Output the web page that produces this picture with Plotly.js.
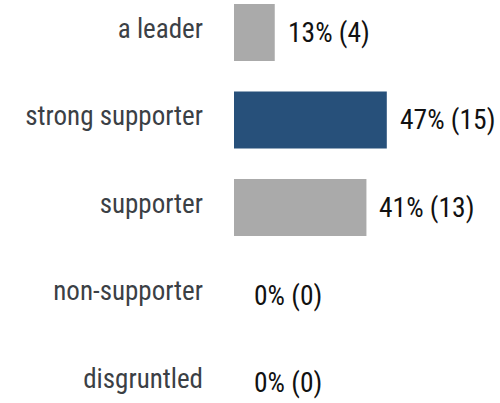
<!DOCTYPE html>
<html>
<head>
<meta charset="utf-8">
<script src="https://cdn.plot.ly/plotly-3.0.1.min.js"></script>
<style>html,body{margin:0;padding:0;background:#fff;}#chart{width:500px;height:403px;}</style>
</head>
<body>
<div id="chart"></div>
<script>
const categories = ["a leader", "strong supporter", "supporter", "non-supporter", "disgruntled"];
const counts = [4, 15, 13, 0, 0];
const total = 32;
const highlight = "strong supporter";

const percents = counts.map(c => c / total * 100);
const labels = counts.map((c, i) => Math.round(percents[i]) + "% (" + c + ")");
const colors = categories.map(c => c === highlight ? "#27507a" : "#aaaaaa");
const FONT = "'Roboto Condensed', 'Liberation Sans Narrow', Roboto, sans-serif";

const trace = {
  type: "bar",
  orientation: "h",
  y: categories,
  x: percents,
  width: 0.65,
  marker: {color: colors},
  hoverinfo: "none"
};

const annotations = categories.map((c, i) => ({
  x: percents[i], y: c, xref: "x", yref: "y",
  text: labels[i], showarrow: false, xanchor: "left", yanchor: "middle",
  xshift: counts[i] === 0 ? 18 : 11,
  font: {family: FONT, size: 27.5, color: "#111111"}
}));

const layout = {
  width: 500, height: 403,
  margin: {l: 234, r: 0, t: 0, b: 0},
  paper_bgcolor: "#ffffff", plot_bgcolor: "#ffffff",
  showlegend: false,
  xaxis: {range: [0, 81.6], visible: false, fixedrange: true},
  yaxis: {
    type: "category",
    range: [4.234, -0.371],
    showgrid: false, zeroline: false, showline: false, ticks: "",
    ticklabelstandoff: 30,
    ticklabelshift: 4,
    tickfont: {family: FONT, size: 27, color: "#3b4045"},
    fixedrange: true
  },
  annotations: annotations
};

Plotly.newPlot("chart", [trace], layout, {staticPlot: true, displayModeBar: false});
</script>
</body>
</html>
